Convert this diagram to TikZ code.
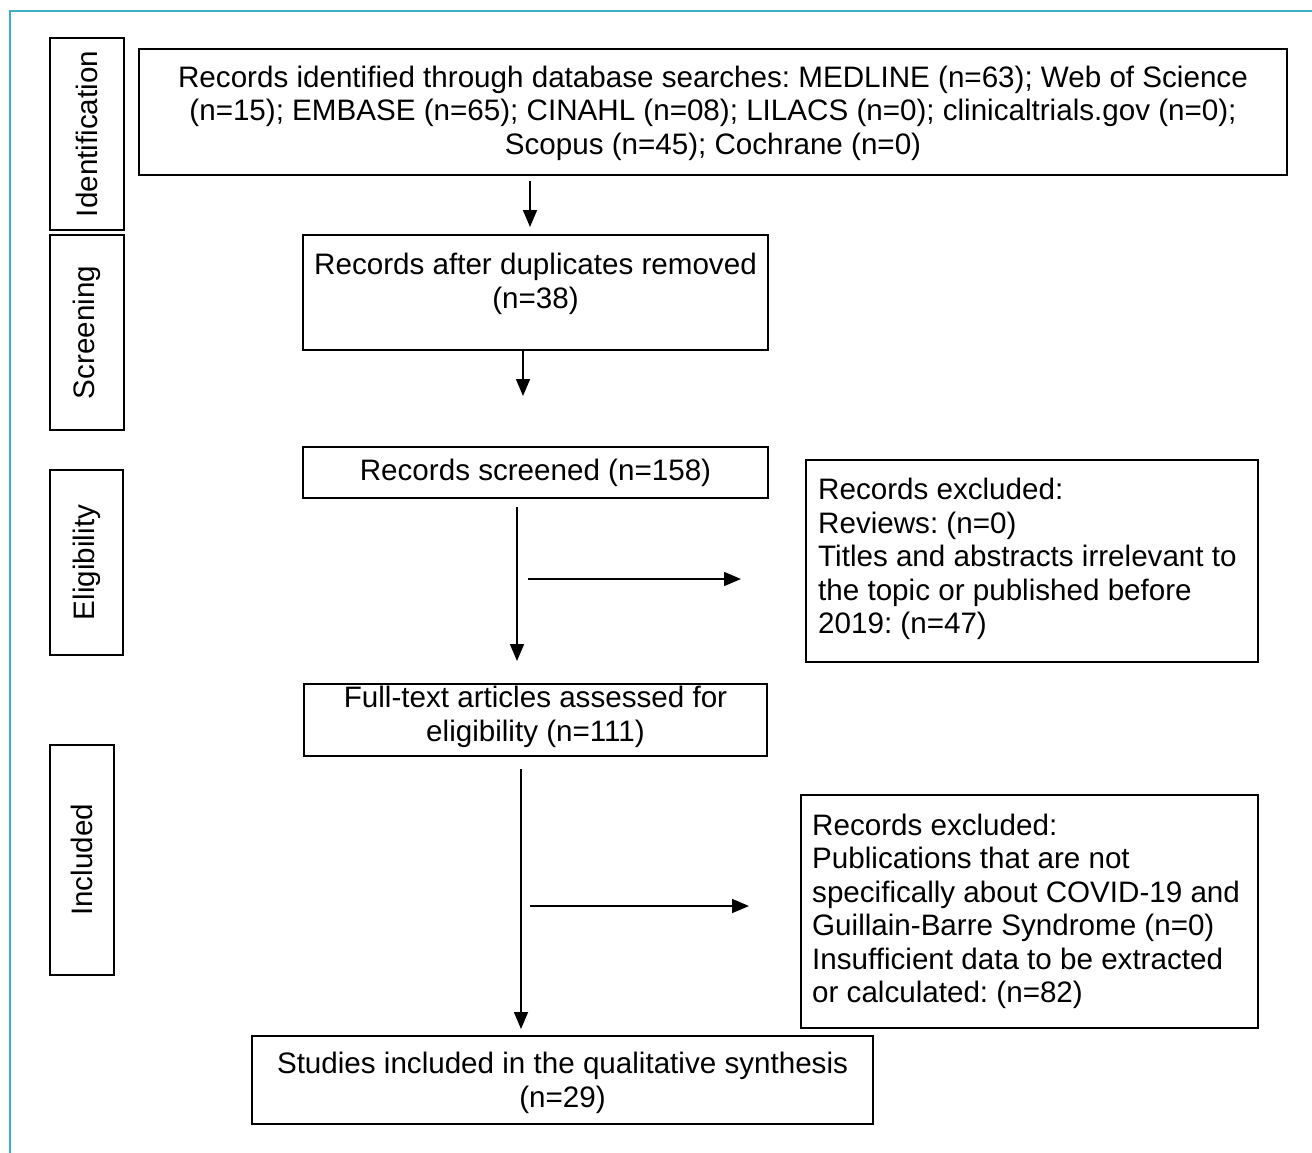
\documentclass[tikz,border=0pt]{standalone}
\usepackage{fontspec}
\setmainfont{Liberation Sans}
\usetikzlibrary{arrows.meta,calc}
\definecolor{frame}{HTML}{3BB0C9}
\frenchspacing
\begin{document}
\begin{tikzpicture}[x=1pt,y=-1pt,
  box/.style={draw=black,line width=2pt,rectangle,inner sep=0pt},
  txt/.style={font=\fontsize{29.6}{33.5}\selectfont,align=center,inner sep=0pt},
  ltxt/.style={font=\fontsize{29.6}{33.5}\selectfont,align=left,inner sep=0pt},
  arr/.style={line width=1.6pt,-{Triangle[length=17pt,width=14pt]}}]
\useasboundingbox (0,0) rectangle (1312,1152);
\draw[frame,line width=2.5pt] (10,1160) -- (10,11) -- (1320,11);
% side labels
\node[box,minimum width=74,minimum height=192] (sid) at (87,134) {};
\node[txt,rotate=90] at (sid) {Identification};
\node[box,minimum width=74,minimum height=195] (ssc) at (87,332.5) {};
\node[txt,rotate=90] at (ssc) {Screening};
\node[box,minimum width=73,minimum height=185] (sel) at (86.5,562.5) {};
\node[txt,rotate=90] at (sel) {Eligibility};
\node[box,minimum width=64,minimum height=230] (sin) at (82,860) {};
\node[txt,rotate=90] at (sin) {Included};
% main boxes
\node[box,minimum width=1148,minimum height=126] (b1) at (713,112) {};
\node[txt] at (713,113) {Records identified through database searches: MEDLINE (n=63); Web of Science\\(n=15); EMBASE (n=65); CINAHL (n=08); LILACS (n=0); clinicaltrials.gov (n=0);\\Scopus (n=45); Cochrane (n=0)};
\node[box,minimum width=465,minimum height=115] (b2) at (535.5,292.5) {};
\node[txt] at (535.5,284) {Records after duplicates removed\\(n=38)};
\node[box,minimum width=465,minimum height=51] (b3) at (535.5,472.5) {};
\node[txt] at (535.5,473) {Records screened (n=158)};
\node[box,minimum width=463,minimum height=72] (b4) at (535.5,720) {};
\node[txt] at (535.5,717) {Full-text articles assessed for\\eligibility (n=111)};
\node[box,minimum width=621,minimum height=88] (b5) at (562.5,1080) {};
\node[txt] at (562.5,1083) {Studies included in the qualitative synthesis\\(n=29)};
\node[box,minimum width=452,minimum height=202] (e1) at (1032,561) {};
\node[ltxt,anchor=west] at (818,559) {Records excluded:\\Reviews: (n=0)\\Titles and abstracts irrelevant to\\the topic or published before\\2019: (n=47)};
\node[box,minimum width=457,minimum height=233] (e2) at (1029.5,911.5) {};
\node[ltxt,anchor=west] at (812,911.5) {Records excluded:\\Publications that are not\\specifically about COVID-19 and\\Guillain-Barre Syndrome (n=0)\\Insufficient data to be extracted\\or calculated: (n=82)};
% connectors
\coordinate (a1) at (530,0);
\coordinate (a2) at (523,0);
\coordinate (a3) at (517,0);
\coordinate (a4) at (521,0);
\draw[arr,shorten <=5pt,shorten >=7pt] (b1.south -| a1) -- (b2.north -| a1);
\draw[arr,shorten <=0pt,shorten >=50pt] (b2.south -| a2) -- (b3.north -| a2);
\draw[arr,shorten <=8pt,shorten >=22pt] (b3.south -| a3) -- (b4.north -| a3);
\draw[arr,shorten <=12pt,shorten >=6pt] (b4.south -| a4) -- (b5.north -| a4);
\coordinate (h1) at (528,579);
\coordinate (h2) at (530,906);
\draw[arr,shorten >=64pt] (h1) -- (h1 -| e1.west);
\draw[arr,shorten >=51pt] (h2) -- (h2 -| e2.west);
\end{tikzpicture}
\end{document}
